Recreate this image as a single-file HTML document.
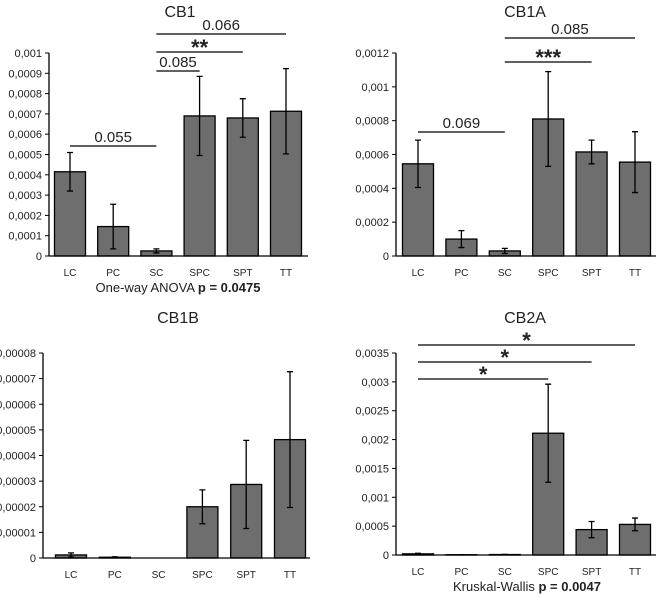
<!DOCTYPE html>
<html><head><meta charset="utf-8"><style>
body{margin:0;background:#fff;}
svg{display:block;font-family:"Liberation Sans",sans-serif;}
</style></head><body>
<svg id="c" width="656" height="597"></svg>
<script>
const categories=["LC","PC","SC","SPC","SPT","TT"];
const cb1Values=[0.000415,0.000145,0.000025,0.00069,0.00068,0.000713];
const cb1Errors=[0.000095,0.00011,0.00001,0.000195,0.000095,0.00021];
const cb1Ticks=["0","0,0001","0,0002","0,0003","0,0004","0,0005","0,0006","0,0007","0,0008","0,0009","0,001"];
const cb1aValues=[0.000545,0.0001,0.00003,0.00081,0.000615,0.000555];
const cb1aErrors=[0.00014,0.00005,0.000015,0.00028,0.00007,0.00018];
const cb1aTicks=["0","0,0002","0,0004","0,0006","0,0008","0,001","0,0012"];
const cb1bValues=[0.0000012,0.0000003,0,0.00002,0.0000287,0.0000462];
const cb1bErrors=[0.0000008,0.0000002,0,0.0000066,0.0000172,0.0000265];
const cb1bTicks=["0","0,00001","0,00002","0,00003","0,00004","0,00005","0,00006","0,00007","0,00008"];
const cb2aValues=[0.00002,0.000005,0.000008,0.00211,0.00044,0.00053];
const cb2aErrors=[0.00001,0.000002,0.000003,0.00085,0.00014,0.00011];
const cb2aTicks=["0","0,0005","0,001","0,0015","0,002","0,0025","0,003","0,0035"];

const svg=document.getElementById('c');
const NS="http://www.w3.org/2000/svg";
function mk(tag,attrs,parent){const e=document.createElementNS(NS,tag);for(const k in attrs)e.setAttribute(k,attrs[k]);(parent||svg).appendChild(e);return e;}

function panel(p){
  const g=mk('g',{});
  
  
  const y=v=>p.y0-(v/p.max)*(p.y0-p.yTop);
  const x=i=>p.c0+i*p.step;
  const t=mk('text',{x:p.titleX,y:p.titleY,'text-anchor':'middle','font-size':16,fill:'#222'},g);
  t.textContent=p.title;
  
  
  const n=p.ticks.length-1;
  p.ticks.forEach((lab,k)=>{
    const v=p.max*k/n, yy=y(v);
    const tk=mk('line',{x1:p.ax-4,x2:p.ax,y1:yy,y2:yy,stroke:'#000','stroke-width':1},g);
    
    
    const tl=mk('text',{x:p.ax-7,y:yy+4,'text-anchor':'end','font-size':11,fill:'#222'},g);
    tl.textContent=lab;
    
    
  });
  p.values.forEach((v,i)=>{
    const cx=x(i),w=31;
    const b=mk('rect',{x:cx-w/2,y:y(v),width:w,height:p.y0-y(v),fill:'#6e6e6e',stroke:'#000','stroke-width':1.3},g);
    
    
    const e=p.errors[i];
    if(e>0){
      const eg=mk('path',{d:`M${cx},${y(v+e)}V${y(Math.max(v-e,0))}M${cx-3},${y(v+e)}h6M${cx-3},${y(Math.max(v-e,0))}h6`,stroke:'#000','stroke-width':1.3,fill:'none'},g);
      
      
    }
    const cl=mk('text',{x:cx,y:p.y0+20,'text-anchor':'middle','font-size':10,fill:'#222'},g);
    cl.textContent=categories[i];
    
    
  });
  const ya=mk('line',{x1:p.ax,x2:p.ax,y1:p.yTop,y2:p.y0,stroke:'#000','stroke-width':1.3},g);
  
  
  const xa=mk('line',{x1:p.ax,x2:p.axEnd,y1:p.y0,y2:p.y0,stroke:'#000','stroke-width':1.3},g);
  
  
  (p.brackets||[]).forEach(br=>{
    const l=mk('line',{x1:x(br[0]),x2:x(br[1]),y1:br[2],y2:br[2],stroke:'#000','stroke-width':1.3},g);
    
    
    const star=br[3].indexOf('*')>=0;
    const tx=mk('text',{x:(x(br[0])+x(br[1]))/2,y:br[2]+(star?3:-4),'text-anchor':'middle','font-size':star?22:15,'font-weight':star?'bold':'normal',fill:'#222'},g);
    tx.textContent=br[3];
    
    
  });
  if(p.foot){
    const f=mk('text',{x:p.footX,y:p.footY,'text-anchor':'middle','font-size':13,fill:'#222'},g);
    f.innerHTML=p.foot;
    
    
  }
}
panel({name:'cb1',title:'CB1',titleX:180,titleY:17,ax:49,axEnd:308,y0:256,yTop:53,max:0.001,c0:70,step:43.2,values:cb1Values,errors:cb1Errors,ticks:cb1Ticks,
  brackets:[[0,2,146,'0.055'],[2,3,71,'0.085'],[2,4,52,'**'],[2,5,34,'0.066']],
  foot:'One-way ANOVA <tspan font-weight="bold">p = 0.0475</tspan>',footX:178,footY:292});
panel({name:'cb1a',title:'CB1A',titleX:525,titleY:17,ax:396,axEnd:656,y0:256,yTop:53,max:0.0012,c0:418,step:43.4,values:cb1aValues,errors:cb1aErrors,ticks:cb1aTicks,
  brackets:[[0,2,132,'0.069'],[2,4,62,'***'],[2,5,38,'0.085']]});
panel({name:'cb1b',title:'CB1B',titleX:178,titleY:323,ax:43,axEnd:310,y0:558,yTop:353,max:0.00008,c0:71,step:43.8,values:cb1bValues,errors:cb1bErrors,ticks:cb1bTicks});
panel({name:'cb2a',title:'CB2A',titleX:525,titleY:323,ax:396,axEnd:656,y0:555,yTop:353,max:0.0035,c0:418,step:43.4,values:cb2aValues,errors:cb2aErrors,ticks:cb2aTicks,
  brackets:[[0,3,379,'*'],[0,4,362,'*'],[0,5,345,'*']],
  foot:'Kruskal-Wallis <tspan font-weight="bold">p = 0.0047</tspan>',footX:527,footY:591});
</script>
</body></html>
